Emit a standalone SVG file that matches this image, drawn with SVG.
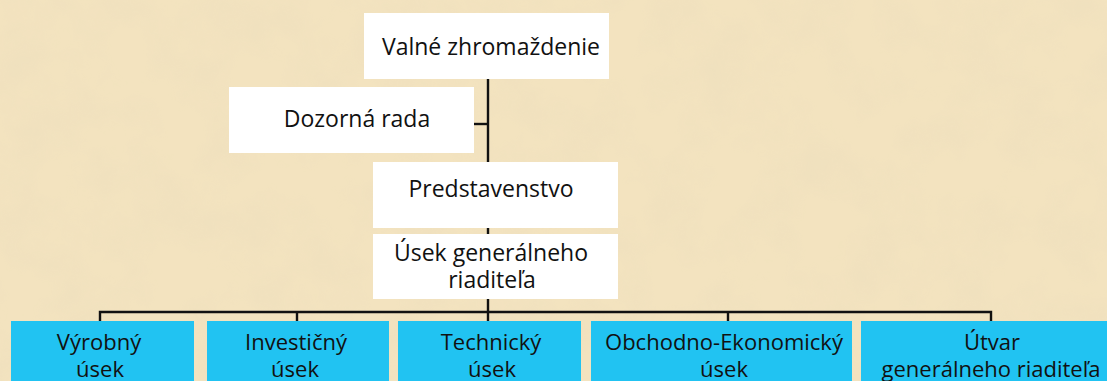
<svg xmlns="http://www.w3.org/2000/svg" width="1107" height="381" viewBox="0 0 1107 381">
<defs>
<style>
.box{fill:#ffffff}
.blue{fill:#21C3F2}
.t{font-family:"Open Sans","Noto Sans",sans-serif;font-size:23px;fill:#111111;text-anchor:middle}
.s{font-size:22px}
.ln{stroke:#111111;stroke-width:2.4;fill:none}
</style>
<filter id="paper" x="0" y="0" width="100%" height="100%">
<feTurbulence type="fractalNoise" baseFrequency="0.02" numOctaves="4" seed="3" result="n"/>
<feColorMatrix in="n" type="matrix" values="0 0 0 0 0.80  0 0 0 0 0.70  0 0 0 0 0.50  0 0 0 1.2 -0.45" result="c"/>
<feComposite in="c" in2="SourceGraphic" operator="in"/>
</filter>
</defs>
<rect width="1107" height="381" fill="#F3E3BF"/>
<rect width="1107" height="381" fill="#F3E3BF" filter="url(#paper)" opacity="0.45"/>
<g id="connectors">
<line class="ln" x1="488" y1="79" x2="488" y2="321"/>
<line class="ln" x1="474" y1="124" x2="488" y2="124"/>
<polyline class="ln" points="100,321 100,312 991,312 991,321"/>
<line class="ln" x1="297" y1="312" x2="297" y2="321"/>
<line class="ln" x1="728" y1="312" x2="728" y2="321"/>
</g>
<g id="valne">
<rect class="box" x="364" y="13" width="245" height="66"/>
<text class="t" x="491" y="55">Valné zhromaždenie</text>
</g>
<g id="dozorna">
<rect class="box" x="229" y="87" width="245" height="66"/>
<text class="t" x="357" y="127">Dozorná rada</text>
</g>
<g id="predstavenstvo">
<rect class="box" x="373" y="162" width="245" height="66"/>
<text class="t" x="491" y="197">Predstavenstvo</text>
</g>
<g id="usek-gr">
<rect class="box" x="373" y="234" width="245" height="65"/>
<text class="t" x="491" y="261">Úsek generálneho</text>
<text class="t" x="492" y="288">riaditeľa</text>
</g>
<g id="vyrobny">
<rect class="blue" x="11" y="321" width="183" height="60"/>
<text class="t s" x="99" y="350">Výrobný</text>
<text class="t s" x="100" y="377">úsek</text>
</g>
<g id="investicny">
<rect class="blue" x="207" y="321" width="182" height="60"/>
<text class="t s" x="296" y="350">Investičný</text>
<text class="t s" x="295" y="377">úsek</text>
</g>
<g id="technicky">
<rect class="blue" x="398" y="321" width="183" height="60"/>
<text class="t s" x="491" y="350">Technický</text>
<text class="t s" x="492" y="377">úsek</text>
</g>
<g id="obchodno">
<rect class="blue" x="591" y="321" width="261" height="60"/>
<text class="t s" x="724" y="350">Obchodno-Ekonomický</text>
<text class="t s" x="724" y="377">úsek</text>
</g>
<g id="utvar">
<rect class="blue" x="861" y="321" width="246" height="60"/>
<text class="t s" x="992" y="350">Útvar</text>
<text class="t s" x="991" y="377">generálneho riaditeľa</text>
</g>
</svg>
